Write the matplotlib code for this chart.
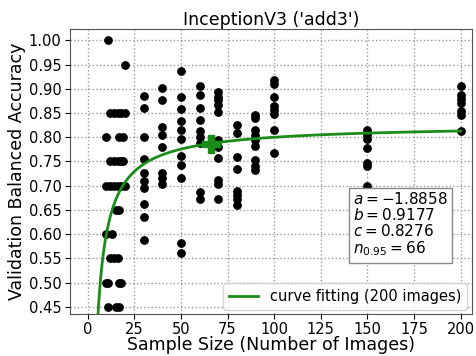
import numpy as np
import matplotlib
matplotlib.use('Agg')
import matplotlib.pyplot as plt

# validation balanced accuracy per sample size
acc_by_size = {
    10: [0.80, 0.70, 0.60, 0.50],
    11: [1.00, 0.50, 0.45],
    12: [0.85, 0.75, 0.70, 0.55],
    13: [0.60],
    14: [0.85, 0.75, 0.70, 0.55],
    15: [0.65, 0.45],
    16: [0.85, 0.75, 0.70, 0.55],
    17: [0.80, 0.65, 0.50, 0.45],
    18: [0.85, 0.75, 0.70, 0.50],
    19: [0.80, 0.75],
    20: [0.95, 0.85, 0.70],
    30: [0.886, 0.860, 0.80, 0.755, 0.726, 0.710, 0.695, 0.663, 0.636, 0.587],
    40: [0.902, 0.877, 0.821, 0.804, 0.78, 0.727, 0.715, 0.703],
    50: [0.936, 0.883, 0.858, 0.833, 0.815, 0.796, 0.762, 0.743, 0.716, 0.581, 0.562],
    60: [0.905, 0.888, 0.86, 0.836, 0.812, 0.80, 0.789, 0.688, 0.672],
    70: [0.893, 0.884, 0.876, 0.867, 0.853, 0.795, 0.78, 0.757, 0.712, 0.704, 0.672],
    80: [0.826, 0.809, 0.76, 0.734, 0.69, 0.681, 0.672, 0.66],
    90: [0.846, 0.84, 0.816, 0.805, 0.795, 0.782, 0.754, 0.74, 0.733],
    100: [0.919, 0.911, 0.883, 0.865, 0.857, 0.849, 0.815, 0.767],
    150: [0.815, 0.805, 0.796, 0.778, 0.747, 0.741, 0.70],
    200: [0.905, 0.888, 0.879, 0.871, 0.855, 0.846, 0.812],
}

# fitted parameters shown in the box
a, b, c = -1.8858, 0.9177, 0.8276
n95 = 66

sizes = [n for n, accs in acc_by_size.items() for _ in accs]
accs = [v for n, vs in acc_by_size.items() for v in vs]

fig = plt.figure(figsize=(4.76, 3.56), dpi=100)
ax = fig.add_axes([0.147, 0.118, 0.844, 0.801])

ax.scatter(sizes, accs, s=28, color='black', zorder=3)

n_fit = np.linspace(2, 200, 500)
ax.plot(n_fit, a * n_fit ** (-b) + c, color='#1a8c1a', lw=2,
        label='curve fitting (200 images)', zorder=4)
ax.plot([n95], [0.95 * c], marker='P', color='#1a8c1a', ms=13, zorder=5)

ax.set_xlim(-9.5, 206)
ax.set_ylim(0.435, 1.024)
ax.set_xticks(np.arange(0, 201, 25))
ax.set_yticks(np.arange(0.45, 1.001, 0.05))
ax.tick_params(labelsize=10.5, pad=2.5)
ax.grid(True, linestyle=':', color='#999999', lw=1)
for s in ax.spines.values():
    s.set_color('#555555')

ax.set_title("InceptionV3 ('add3')", fontsize=12.5, pad=3)
ax.set_xlabel('Sample Size (Number of Images)', fontsize=12.5, labelpad=-1)
ax.set_ylabel('Validation Balanced Accuracy', fontsize=12.5, labelpad=2)

txt = '$a = -1.8858$\n$b = 0.9177$\n$c = 0.8276$\n$n_{0.95} = 66$'
ax.text(0.705, 0.43, txt, transform=ax.transAxes, fontsize=11, va='top',
        ha='left', linespacing=1.0,
        bbox=dict(boxstyle='square,pad=0.3', fc='white', ec='#888888'),
        zorder=6)

ax.legend(loc='lower right', fontsize=10.5, borderaxespad=0.3,
          handlelength=2)

fig.savefig('out.png', dpi=100)
